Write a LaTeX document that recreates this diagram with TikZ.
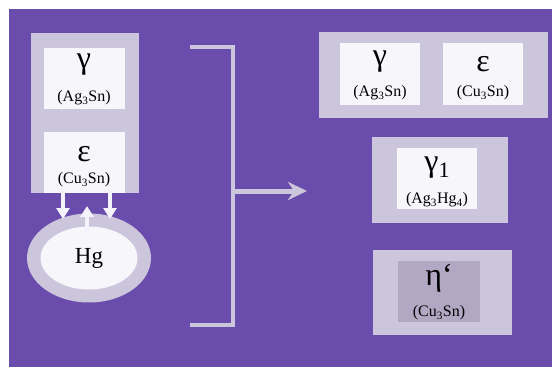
\documentclass[tikz,border=0pt]{standalone}
\usepackage{fontspec}
\setmainfont{Liberation Serif}
\usetikzlibrary{arrows.meta,positioning,shapes.geometric}
\definecolor{phasebg}   {RGB}{106, 76,172}
\definecolor{phaseframe}{RGB}{204,198,220}
\definecolor{phasecell} {RGB}{247,246,250}
\definecolor{phasedark} {RGB}{178,168,196}
\definecolor{flowwhite} {RGB}{244,242,250}

\begin{document}
\begin{tikzpicture}[x=1pt, y=-1pt,
    frame/.style={rectangle, fill=phaseframe, inner sep=0pt},
    cell/.style={rectangle, fill=phasecell, inner sep=0pt, minimum width=81pt, minimum height=61pt},
    greek/.style={inner sep=0pt, anchor=base, font=\fontsize{32}{32}\selectfont},
    formula/.style={inner sep=0pt, anchor=base, font=\fontsize{16}{16}\selectfont},
    ring/.style={ellipse, inner sep=0pt},
    flow/.style={-{Triangle[width=13pt,length=11pt]}, line width=4pt, draw=flowwhite},
    bracket/.style={line width=4.5pt, draw=phaseframe},
    react/.style={-{Stealth[width=18pt,length=19pt,inset=6pt]}, line width=5pt, draw=phaseframe}
]
    % page and background
    \useasboundingbox (0,0) rectangle (552,367);
    \fill[white] (0,0) rectangle (552,367);
    \fill[phasebg] (9,9) rectangle (552,367);

    % alloy particle and mercury
    \node[frame, minimum width=108pt, minimum height=160pt] (alloy) at (85,113) {};
    \node[cell] (gammaL) at (84,78.5) {};
    \node[greek] (gammaLsym) at ([yshift=-21pt]gammaL.north) {γ};
    \node[formula] (gammaLform) at ([yshift=-54pt]gammaL.north) {(Ag\textsubscript{3}Sn)};
    \node[cell] (epsL) at (84,162.5) {};
    \node[greek] (epsLsym) at ([yshift=-30pt]epsL.north) {ε};
    \node[formula] (epsLform) at ([yshift=-52pt]epsL.north) {(Cu\textsubscript{3}Sn)};

    \node[ring, fill=phaseframe, minimum width=124pt, minimum height=89pt] (hgring) at (89,258) {};
    \node[ring, fill=phasecell, minimum width=97pt, minimum height=63pt, font=\fontsize{23}{23}\selectfont] (hg) at (hgring.center) {Hg};

    \coordinate (d1s) at (63,189);  \coordinate (d1e) at (63,219);
    \coordinate (d2s) at (110,189); \coordinate (d2e) at (110,219);
    \coordinate (ups) at (87,234);  \coordinate (upe) at (87,206);
    \draw[flow] (d1s) -- (d1e);
    \draw[flow] (d2s) -- (d2e);
    \draw[flow] (ups) -- (upe);

    % reaction bracket
    \coordinate (brtop) at (190,47);
    \coordinate (brbot) at (190,325);
    \coordinate (brmid) at (233,191);
    \coordinate (brend) at (307,191);
    \draw[bracket] (brtop) -- (233,47) -- (233,325) -- (brbot);
    \draw[react] (brmid) -- (brend);

    % products
    \node[frame, minimum width=229pt, minimum height=86pt] (unreacted) at (433.5,75) {};
    \node[cell, minimum width=80pt, minimum height=62pt] (gammaR) at (380,74) {};
    \node[greek] (gammaRsym) at ([yshift=-23pt]gammaR.north) {γ};
    \node[formula] (gammaRform) at ([yshift=-54pt]gammaR.north) {(Ag\textsubscript{3}Sn)};
    \node[cell, minimum width=80pt, minimum height=62pt] (epsR) at (483,74) {};
    \node[greek] (epsRsym) at ([yshift=-29pt]epsR.north) {ε};
    \node[formula] (epsRform) at ([yshift=-54pt]epsR.north) {(Cu\textsubscript{3}Sn)};

    \node[frame, minimum width=136pt, minimum height=86pt] (gamma1box) at (440,180) {};
    \node[cell, minimum width=80pt] (gammaone) at (437,178.5) {};
    \node[greek] (gammaonesym) at ([yshift=-24pt]gammaone.north) {γ\raisebox{-6pt}{\fontsize{22}{22}\selectfont 1}};
    \node[formula] (gammaoneform) at ([yshift=-56pt]gammaone.north) {(Ag\textsubscript{3}Hg\textsubscript{4})};

    \node[frame, minimum width=139pt, minimum height=85pt] (etabox) at (442.5,292.5) {};
    \node[cell, fill=phasedark, minimum width=82pt] (eta) at (439,291.5) {};
    \node[greek] (etasym) at ([yshift=-25pt]eta.north) {η‘};
    \node[formula] (etaform) at ([yshift=-56pt]eta.north) {(Cu\textsubscript{3}Sn)};
\end{tikzpicture}
\end{document}
